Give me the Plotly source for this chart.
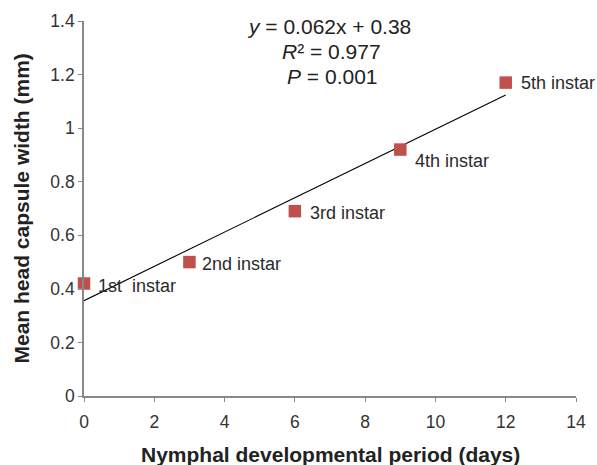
import numpy as np
import plotly.graph_objects as go

days = [0, 3, 6, 9, 12]
width_mm = [0.42, 0.50, 0.69, 0.92, 1.17]
stage_labels = ["1st  instar", "2nd instar", "3rd instar", "4th instar", "5th instar"]
x_ticks = [0, 2, 4, 6, 8, 10, 12, 14]
y_ticks = [0, 0.2, 0.4, 0.6, 0.8, 1.0, 1.2, 1.4]
y_tick_text = ["0", "0.2", "0.4", "0.6", "0.8", "1", "1.2", "1.4"]
equation_lines = ["<i>y</i> = 0.062x + 0.38", "<i>R</i>² = 0.977", "<i>P</i> = 0.001"]
x_title = "Nymphal developmental period (days)"
y_title = "Mean head capsule width (mm)"

slope, intercept = np.polyfit(days, width_mm, 1)
fit_x = [min(days), max(days)]
fit_y = [slope * v + intercept for v in fit_x]

FONT = "Liberation Sans, Arial, sans-serif"

fig = go.Figure()
fig.add_trace(go.Scatter(x=fit_x, y=fit_y, mode="lines",
                         line=dict(color="black", width=1.1),
                         showlegend=False, hoverinfo="skip", cliponaxis=False))
fig.add_trace(go.Scatter(x=days, y=width_mm, mode="markers",
                         marker=dict(symbol="square", size=12.5, color="#C0504D",
                                     line=dict(width=0)),
                         showlegend=False, cliponaxis=False))

label_shift = [(12, -2.5), (11, -2), (13, -1.5), (12.5, -11), (13, 0)]
for xv, yv, t, (dx, dy) in zip(days, width_mm, stage_labels, label_shift):
    fig.add_annotation(x=xv, y=yv, text=t, showarrow=False, xanchor="left",
                       yanchor="middle", xshift=dx, yshift=dy,
                       font=dict(family=FONT, size=18, color="#2b2b2b"))

eq_y = [0.985, 0.918, 0.853]
eq_x = [0.498, 0.504, 0.505]
for t, xp, yp in zip(equation_lines, eq_x, eq_y):
    fig.add_annotation(xref="paper", yref="paper", x=xp, y=yp,
                       xanchor="center", yanchor="middle", showarrow=False,
                       text=t, font=dict(family=FONT, size=21, color="#222222"))

# axis titles
fig.add_annotation(xref="paper", yref="paper", x=0.5, y=-0.157,
                   xanchor="center", yanchor="middle", showarrow=False,
                   text="<b>" + x_title + "</b>",
                   font=dict(family=FONT, size=21, color="#222222"))
fig.add_annotation(xref="paper", yref="paper", x=-0.128, y=0.5,
                   xanchor="center", yanchor="middle", showarrow=False,
                   textangle=-90, text="<b>" + y_title + "</b>",
                   font=dict(family=FONT, size=21, color="#222222"))

axis_common = dict(showline=True, linecolor="#888888", linewidth=1.7,
                   ticks="outside", ticklen=4, tickcolor="#888888", tickwidth=1.4,
                   showgrid=False, zeroline=False, automargin=False,
                   tickfont=dict(family=FONT, size=17.5, color="#333333"))

fig.update_layout(
    width=597, height=465,
    margin=dict(l=84, r=21, t=21, b=69),
    paper_bgcolor="white", plot_bgcolor="white",
    xaxis=dict(range=[0, 14], tickvals=x_ticks, ticklabelstandoff=5, **axis_common),
    yaxis=dict(range=[0, 1.4], tickvals=y_ticks, ticktext=y_tick_text, **axis_common),
)

fig.write_html("out.html", config={"displayModeBar": False},
               post_script="document.body.style.margin='0';")
